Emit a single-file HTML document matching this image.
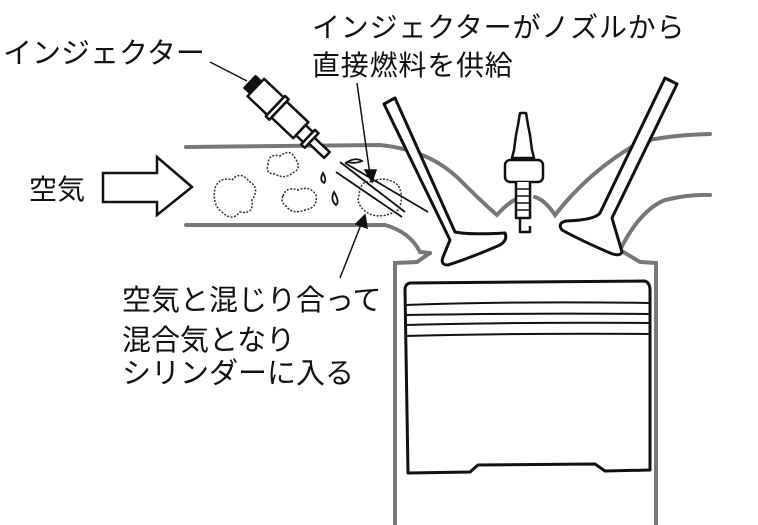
<!DOCTYPE html>
<html><head><meta charset="utf-8"><style>
html,body{margin:0;padding:0;background:#fff;}
svg{display:block;}
text{font-family:"Liberation Sans","Noto Sans CJK JP",sans-serif;fill:#111;}
</style></head><body>
<svg width="758" height="525" viewBox="0 0 758 525" xmlns="http://www.w3.org/2000/svg">
<g fill="none" stroke="#777" stroke-width="4" stroke-linecap="round">
  <!-- intake port -->
  <path d="M186 147 L380 145 Q430 150 460 180 Q485 205 497 215 Q510 200 522 197"/>
  <path d="M186 225 L385 225 Q410 232 420 252 L430 253"/>
  <path d="M430 253 L417 262 L395 263 L395 525" stroke-dasharray="2 1"/>
  <!-- exhaust port -->
  <path d="M535 197 Q545 200 555 215 Q590 170 640 142 Q670 135 710 134"/>
  <path d="M620 250 Q640 210 665 200 Q690 194 710 195"/>
  <path d="M620 250 L640 262 L656 263 L656 525" stroke-dasharray="2 1"/>
</g>
<g fill="none" stroke="#111" stroke-width="3" stroke-linejoin="round">
  <!-- piston -->
  <path d="M410 283 L645 281 Q650 283 650 290 L650 470 L605 471 L595 464 L478 465 L470 472 L408 473 L405 290 Q405 284 410 283 Z" fill="#fff"/>
  <path d="M405 305 Q520 301 650 303" stroke-width="2"/>
  <path d="M405 315 Q520 313 650 314" stroke-width="2"/>
  <path d="M405 325 Q520 322 650 323" stroke-width="2"/>
  <path d="M405 336 Q520 333 650 334" stroke-width="2"/>
  <!-- intake valve -->
  <path d="M384 104 L395 98 L455 232 Q470 235 505 233 Q508 240 500 245 Q470 258 448 265 Q440 265 443 257 L450 240 Z" fill="#fff"/>
  <!-- exhaust valve -->
  <path d="M665 78 L677 84 L612 218 L622 252 Q620 257 610 253 Q580 240 562 230 Q557 223 566 221 Q595 220 600 213 Z" fill="#fff"/>
  <!-- spark plug -->
  <path d="M520 113 L526 113 L528 125 L530 135 L532 150 L534 158 L512 158 L514 150 L516 135 L518 125 Z" fill="#fff" stroke-width="2.5"/>
  <rect x="505" y="160" width="38" height="22" rx="5" fill="#fff" stroke-width="2.5"/>
  <path d="M516 182 L516 218 L530 218 L530 182" fill="#fff" stroke-width="2.5"/>
  <path d="M516 189 L530 189 M516 196 L530 196 M516 203 L530 203 M516 210 L530 210" stroke-width="1.5"/>
  <path d="M520 218 L520 232 L530 232 L530 226" stroke-width="2.5"/>
</g>
<!-- injector -->
<g transform="translate(250 82) rotate(43.5)" stroke="#111" stroke-width="2.5" fill="#fff" stroke-linejoin="round">
  <rect x="0" y="-8" width="9" height="16" fill="#111"/>
  <rect x="8" y="-12" width="27" height="24"/>
  <rect x="35" y="-14" width="5" height="28"/>
  <rect x="40" y="-11" width="30" height="22"/>
  <rect x="70" y="-7" width="10" height="14"/>
  <rect x="80" y="-10" width="5" height="20"/>
  <rect x="85" y="-4" width="21" height="8"/>
</g>
<line x1="210" y1="62" x2="247" y2="81" stroke="#111" stroke-width="1.5"/>
<!-- spray -->
<g stroke="#111" stroke-width="1.8" fill="none">
  <line x1="340" y1="162" x2="405" y2="212"/>
  <line x1="336" y1="172" x2="402" y2="217"/>
  <line x1="345" y1="163" x2="428" y2="212"/>
  <path d="M347 162 Q356 157 362 161 Q356 164 347 162Z"/>
  <path d="M323 173 Q327 180 324 183 Q319 180 323 173Z"/>
  <path d="M334 192 Q340 202 336 205 Q330 200 334 192Z"/>
</g>
<g stroke="#333" stroke-width="1.5" fill="none" stroke-dasharray="2 1.5">
  <path d="M215 188 Q220 176 232 180 Q240 170 250 182 Q260 188 252 200 Q254 215 240 212 Q232 222 222 212 Q212 205 215 188Z"/>
  <path d="M268 165 Q268 153 280 156 Q290 148 295 158 Q302 168 294 172 Q285 180 275 174 Q265 174 268 165Z"/>
  <path d="M283 196 Q286 186 298 190 Q310 185 316 195 Q318 208 305 210 Q292 215 286 206 Q280 202 283 196Z"/>
  <path d="M360 190 Q362 180 372 182 Q385 175 398 185 Q405 198 398 210 Q385 218 372 215 Q360 210 358 200Z"/>
</g>
<!-- arrow outline -->
<path d="M103 173 L157 173 L157 157 L192 187 L157 215 L157 202 L103 202 Z" fill="#fff" stroke="#111" stroke-width="2.5"/>
<!-- pointer lines -->
<g stroke="#111" stroke-width="1.5" fill="#111">
  <line x1="357" y1="83" x2="370" y2="175"/>
  <path d="M365 170 L376 170 L372 182 Z"/>
  <line x1="340" y1="278" x2="362" y2="222"/>
  <path d="M356 224 L367 228 L365 215 Z"/>
</g>
<text x="3" y="63" font-size="29">インジェクター</text>
<text x="312" y="37" font-size="28" letter-spacing="0.8">インジェクターがノズルから</text>
<text x="312" y="75" font-size="28" letter-spacing="0.8">直接燃料を供給</text>
<text x="29" y="199" font-size="28">空気</text>
<text x="122" y="310" font-size="29">空気と混じり合って</text>
<text x="122" y="350" font-size="29">混合気となり</text>
<text x="122" y="383" font-size="29">シリンダーに入る</text>
</svg>
</body></html>
